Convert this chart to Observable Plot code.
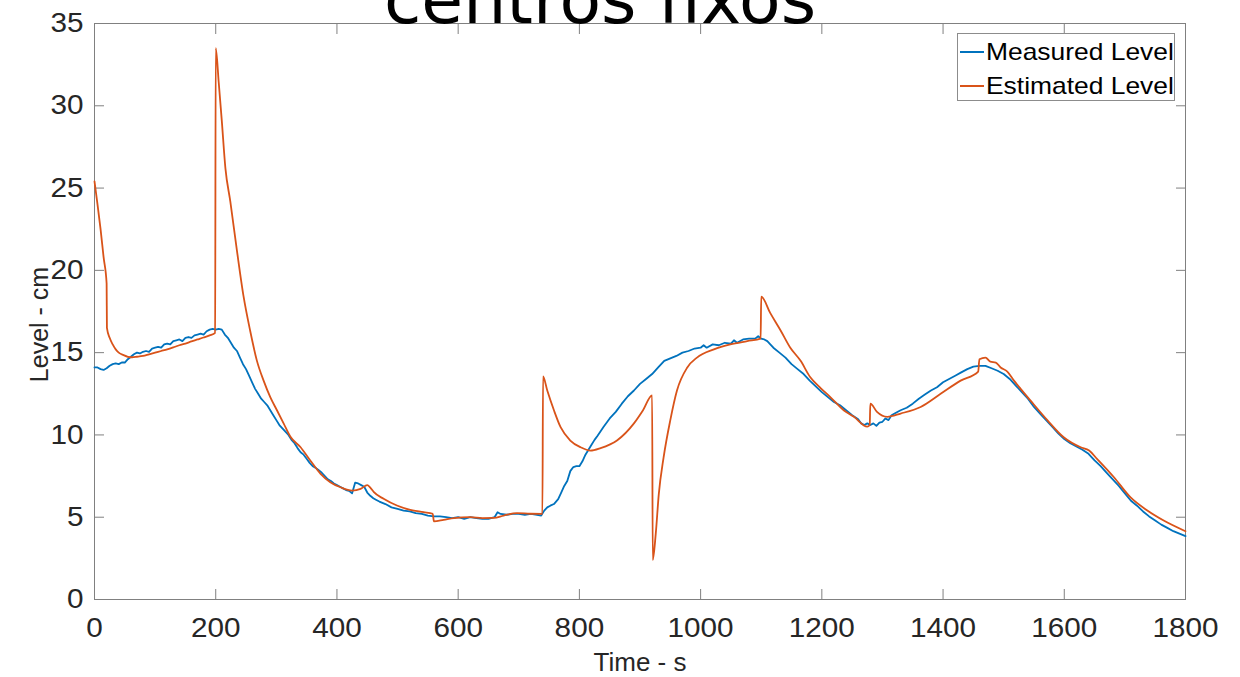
<!DOCTYPE html>
<html>
<head>
<meta charset="utf-8">
<script src="https://cdn.jsdelivr.net/npm/d3@7"></script>
<script src="https://cdn.jsdelivr.net/npm/@observablehq/plot@0.6"></script>
<style>
  html, body { margin: 0; padding: 0; background: #fff; }
  #wrap { position: relative; width: 1240px; height: 677px; overflow: hidden; }
  #legend { position: absolute; left: 957px; top: 33px; width: 218px; height: 68px;
            border: 1px solid #8c8c8c; background: #fff; box-sizing: border-box;
            font-family: "Liberation Sans", Arial, Helvetica, sans-serif; font-size: 24px; color: #000; }
  .row { position: absolute; left: 2px; height: 30px; display: flex; align-items: center; white-space: nowrap; }
  .sw { width: 24px; height: 2px; margin-right: 2px; flex: none; }
  .lbl { display: inline-block; transform: scaleX(1.1); transform-origin: left center; }
</style>
</head>
<body>
<div id="wrap"></div>
<script>
// ---------- data ----------
const title = "centros fixos";
const xLabel = "Time - s";
const yLabel = "Level - cm";
const seriesNames = ["Measured Level", "Estimated Level"];
const seriesColors = ["#0072BD", "#D95319"];
const xTicks = [0, 200, 400, 600, 800, 1000, 1200, 1400, 1600, 1800];
const yTicks = [0, 5, 10, 15, 20, 25, 30, 35];

const measuredTime = [
  0,5,10,15,20,25,30,35,40,45,50,55,60,65,70,75,80,85,90,95,100,105,110,115,120,125,130,135,140,145,
  150,155,160,165,170,175,180,185,190,195,200,205,210,215,220,225,230,235,240,245,250,255,260,265,270,
  275,280,285,290,295,300,305,310,315,320,325,330,335,340,345,350,355,360,365,370,375,380,385,390,395,
  400,405,410,415,420,425,430,435,440,445,450,455,460,465,470,480,490,500,510,520,530,540,550,560,570,
  580,590,600,610,620,630,640,650,660,665,670,680,690,700,710,720,730,737,742,747,752,758,765,770,775,
  780,785,790,795,800,805,810,815,820,825,830,840,850,860,870,880,890,900,910,920,930,940,950,960,970,
  980,990,1000,1005,1010,1020,1030,1040,1050,1055,1060,1070,1080,1090,1095,1100,1105,1110,1115,1120,
  1130,1140,1150,1160,1170,1180,1190,1200,1210,1220,1230,1240,1250,1260,1265,1270,1275,1280,1285,1290,
  1295,1300,1305,1310,1315,1320,1330,1340,1350,1360,1370,1380,1390,1400,1410,1420,1430,1440,1450,1460,
  1470,1480,1490,1500,1510,1520,1530,1540,1550,1560,1570,1580,1590,1600,1610,1620,1630,1640,1650,1660,
  1670,1680,1690,1700,1710,1720,1730,1740,1750,1760,1770,1780,1790,1800
];
const measuredLevel = [
  14.1,14.1,14.0,13.95,14.05,14.2,14.3,14.35,14.3,14.4,14.4,14.6,14.75,14.9,15.0,14.95,15.05,15.1,15.05,15.25,
  15.3,15.35,15.3,15.5,15.55,15.5,15.7,15.75,15.8,15.7,15.9,15.95,15.9,16.05,16.1,16.15,16.1,16.3,16.4,16.45,
  16.4,16.45,16.4,16.1,15.9,15.6,15.3,15.1,14.7,14.3,14.0,13.6,13.2,12.8,12.5,12.2,12.0,11.8,11.5,11.2,
  10.9,10.6,10.4,10.2,10.0,9.7,9.5,9.2,8.95,8.8,8.55,8.3,8.1,8.0,7.85,7.7,7.5,7.3,7.2,7.05,
  6.95,6.85,6.75,6.65,6.6,6.45,7.1,7.05,6.95,6.85,6.5,6.3,6.15,6.05,5.95,5.8,5.6,5.5,5.4,5.35,
  5.25,5.2,5.1,5.05,5.05,5.0,4.95,5.0,4.9,5.0,4.95,4.9,4.9,5.0,5.3,5.2,5.15,5.2,5.2,5.15,
  5.2,5.15,5.1,5.4,5.6,5.7,5.8,6.1,6.5,6.9,7.2,7.8,8.05,8.1,8.1,8.4,8.8,9.1,9.4,9.7,
  9.95,10.5,11.0,11.4,11.9,12.35,12.7,13.1,13.4,13.7,14.1,14.5,14.65,14.8,15.0,15.1,15.25,15.3,15.45,15.3,
  15.5,15.45,15.6,15.55,15.75,15.6,15.8,15.85,15.85,16.0,15.85,15.8,15.7,15.5,15.3,15.0,14.7,14.3,14.0,13.7,
  13.3,12.95,12.6,12.3,12.0,11.8,11.5,11.2,10.95,10.7,10.6,10.7,10.6,10.7,10.55,10.75,10.8,11.0,10.9,11.2,
  11.3,11.5,11.65,11.9,12.2,12.45,12.7,12.9,13.2,13.4,13.6,13.8,14.0,14.15,14.2,14.2,14.05,13.9,13.7,13.4,
  13.0,12.6,12.2,11.7,11.3,10.9,10.5,10.1,9.75,9.5,9.3,9.1,8.85,8.45,8.1,7.7,7.3,6.9,6.45,6.0,
  5.7,5.35,5.05,4.8,4.55,4.35,4.15,4.0,3.85
];

const estimatedTime = [
  0,5,10,15,20,20.5,25,30,35,40,48,55,62,70,80,90,100,110,120,130,140,150,160,170,180,190,199,
  200,205,210,216,224,235,246,257,268,279,290,301,312,323,340,356,373,389,406,425,439,450,455,461,
  477,499,521,543,558,560,576,593,620,640,659,675,697,719,739,740,747,758,769,785,802,818,835,862,
  890,905,920,921,926,931,939,950,961,978,994,1022,1049,1077,1099,1100,1115,1132,1148,1165,1181,1198,
  1214,1236,1253,1275,1279,1280,1291,1308,1330,1363,1396,1429,1458,1460,1470,1478,1487,1495,1506,1517,
  1528,1544,1572,1599,1627,1641,1654,1682,1709,1737,1764,1800
];
const estimatedLevel = [
  25.4,24.0,22.5,20.8,19.2,16.5,15.9,15.5,15.2,15.0,14.85,14.75,14.72,14.75,14.8,14.9,15.0,15.1,15.2,15.32,15.45,15.55,15.68,15.8,15.92,16.05,16.2,
  33.5,31.4,29.1,26.2,24.2,21.2,18.4,16.3,14.5,13.3,12.3,11.5,10.7,9.9,9.25,8.45,7.64,7.13,6.82,6.62,6.72,6.95,6.8,6.52,
  6.12,5.71,5.45,5.31,5.21,4.75,4.84,4.95,5.0,4.95,4.96,5.1,5.25,5.21,5.2,13.55,12.7,11.5,10.47,9.66,9.25,9.05,9.2,9.66,
  10.7,11.5,12.4,2.4,4.0,6.4,8.65,10.9,12.7,14.1,14.7,15.2,15.5,15.7,15.85,18.4,17.4,16.35,15.3,14.5,13.5,12.85,
  12.3,11.5,11.1,10.5,10.6,11.9,11.4,11.1,11.3,11.7,12.5,13.3,13.85,14.6,14.7,14.45,14.4,14.1,13.85,13.3,
  12.8,12.1,10.9,9.86,9.25,9.05,8.55,7.43,6.22,5.41,4.8,4.15
];

// ---------- tables ----------
const measured = measuredTime.map((t, i) => ({t, v: measuredLevel[i]}));
const estimated = estimatedTime.map((t, i) => ({t, v: estimatedLevel[i]}));

const axisColor = "#808080";
const textColor = "#262626";
const font = "Liberation Sans, Arial, Helvetica, sans-serif";

const chart = Plot.plot({
  width: 1240,
  height: 677,
  marginLeft: 94,
  marginRight: 55,
  marginTop: 23,
  marginBottom: 78,
  style: {fontFamily: font, fontSize: "27px", color: textColor, background: "#fff", overflow: "visible"},
  x: {domain: [0, 1800]},
  y: {domain: [0, 35]},
  marks: [
    Plot.frame({stroke: axisColor, strokeWidth: 1}),
    Plot.axisX({anchor: "bottom", ticks: xTicks, tickSize: -10, tickPadding: 28, stroke: axisColor, fill: textColor, fontSize: 27, label: null, tickFormat: d => String(d)}),
    Plot.axisX({anchor: "top", ticks: xTicks, tickSize: -10, stroke: axisColor, label: null, tickFormat: () => ""}),
    Plot.axisY({anchor: "left", ticks: yTicks, tickSize: -10, tickPadding: 21, stroke: axisColor, fill: textColor, fontSize: 27, label: null, tickFormat: d => String(d)}),
    Plot.axisY({anchor: "right", ticks: yTicks, tickSize: -10, stroke: axisColor, label: null, tickFormat: () => ""}),
    Plot.line(measured, {x: "t", y: "v", stroke: seriesColors[0], strokeWidth: 1.8}),
    Plot.line(estimated, {x: "t", y: "v", stroke: seriesColors[1], strokeWidth: 1.8, curve: "monotone-x"}),
    Plot.text([xLabel], {text: d => d, ariaLabel: "xlabel", frameAnchor: "bottom", textAnchor: "middle", lineAnchor: "bottom", dy: 71, fontSize: 26, fill: textColor, fontFamily: font}),
    Plot.text([yLabel], {text: d => d, frameAnchor: "left", textAnchor: "middle", rotate: -90, lineAnchor: "bottom", dx: -47, dy: 13, fontSize: 25, fill: textColor, fontFamily: font}),
    Plot.text([title], {text: d => d, frameAnchor: "top", textAnchor: "middle", lineAnchor: "bottom", dx: -40, dy: -1, fontSize: 68, fill: "#000", fontFamily: "DejaVu Sans"})
  ]
});

const wrap = document.getElementById("wrap");
wrap.appendChild(chart);

// mimic the slightly wide lettering of the original: append a horizontal
// stretch about each label's own anchor point
chart.querySelectorAll('g[aria-label="x-axis tick label"] text, g[aria-label="y-axis tick label"] text, g[aria-label="xlabel"] text').forEach(t => {
  const tr = t.getAttribute("transform");
  if (tr) {
    t.setAttribute("transform", tr + " scale(1.1,1)");
  } else {
    const x = +(t.getAttribute("x") || 0);
    t.setAttribute("x", 0);
    t.setAttribute("transform", `translate(${x},0) scale(1.1,1)`);
  }
});

// legend
const legend = document.createElement("div");
legend.id = "legend";
seriesNames.forEach((name, i) => {
  const row = document.createElement("div");
  row.className = "row";
  row.style.top = (3 + i * 34) + "px";
  const sw = document.createElement("div");
  sw.className = "sw";
  sw.style.background = seriesColors[i];
  const label = document.createElement("span");
  label.className = "lbl";
  label.textContent = name;
  row.appendChild(sw);
  row.appendChild(label);
  legend.appendChild(row);
});
wrap.appendChild(legend);
</script>
</body>
</html>
